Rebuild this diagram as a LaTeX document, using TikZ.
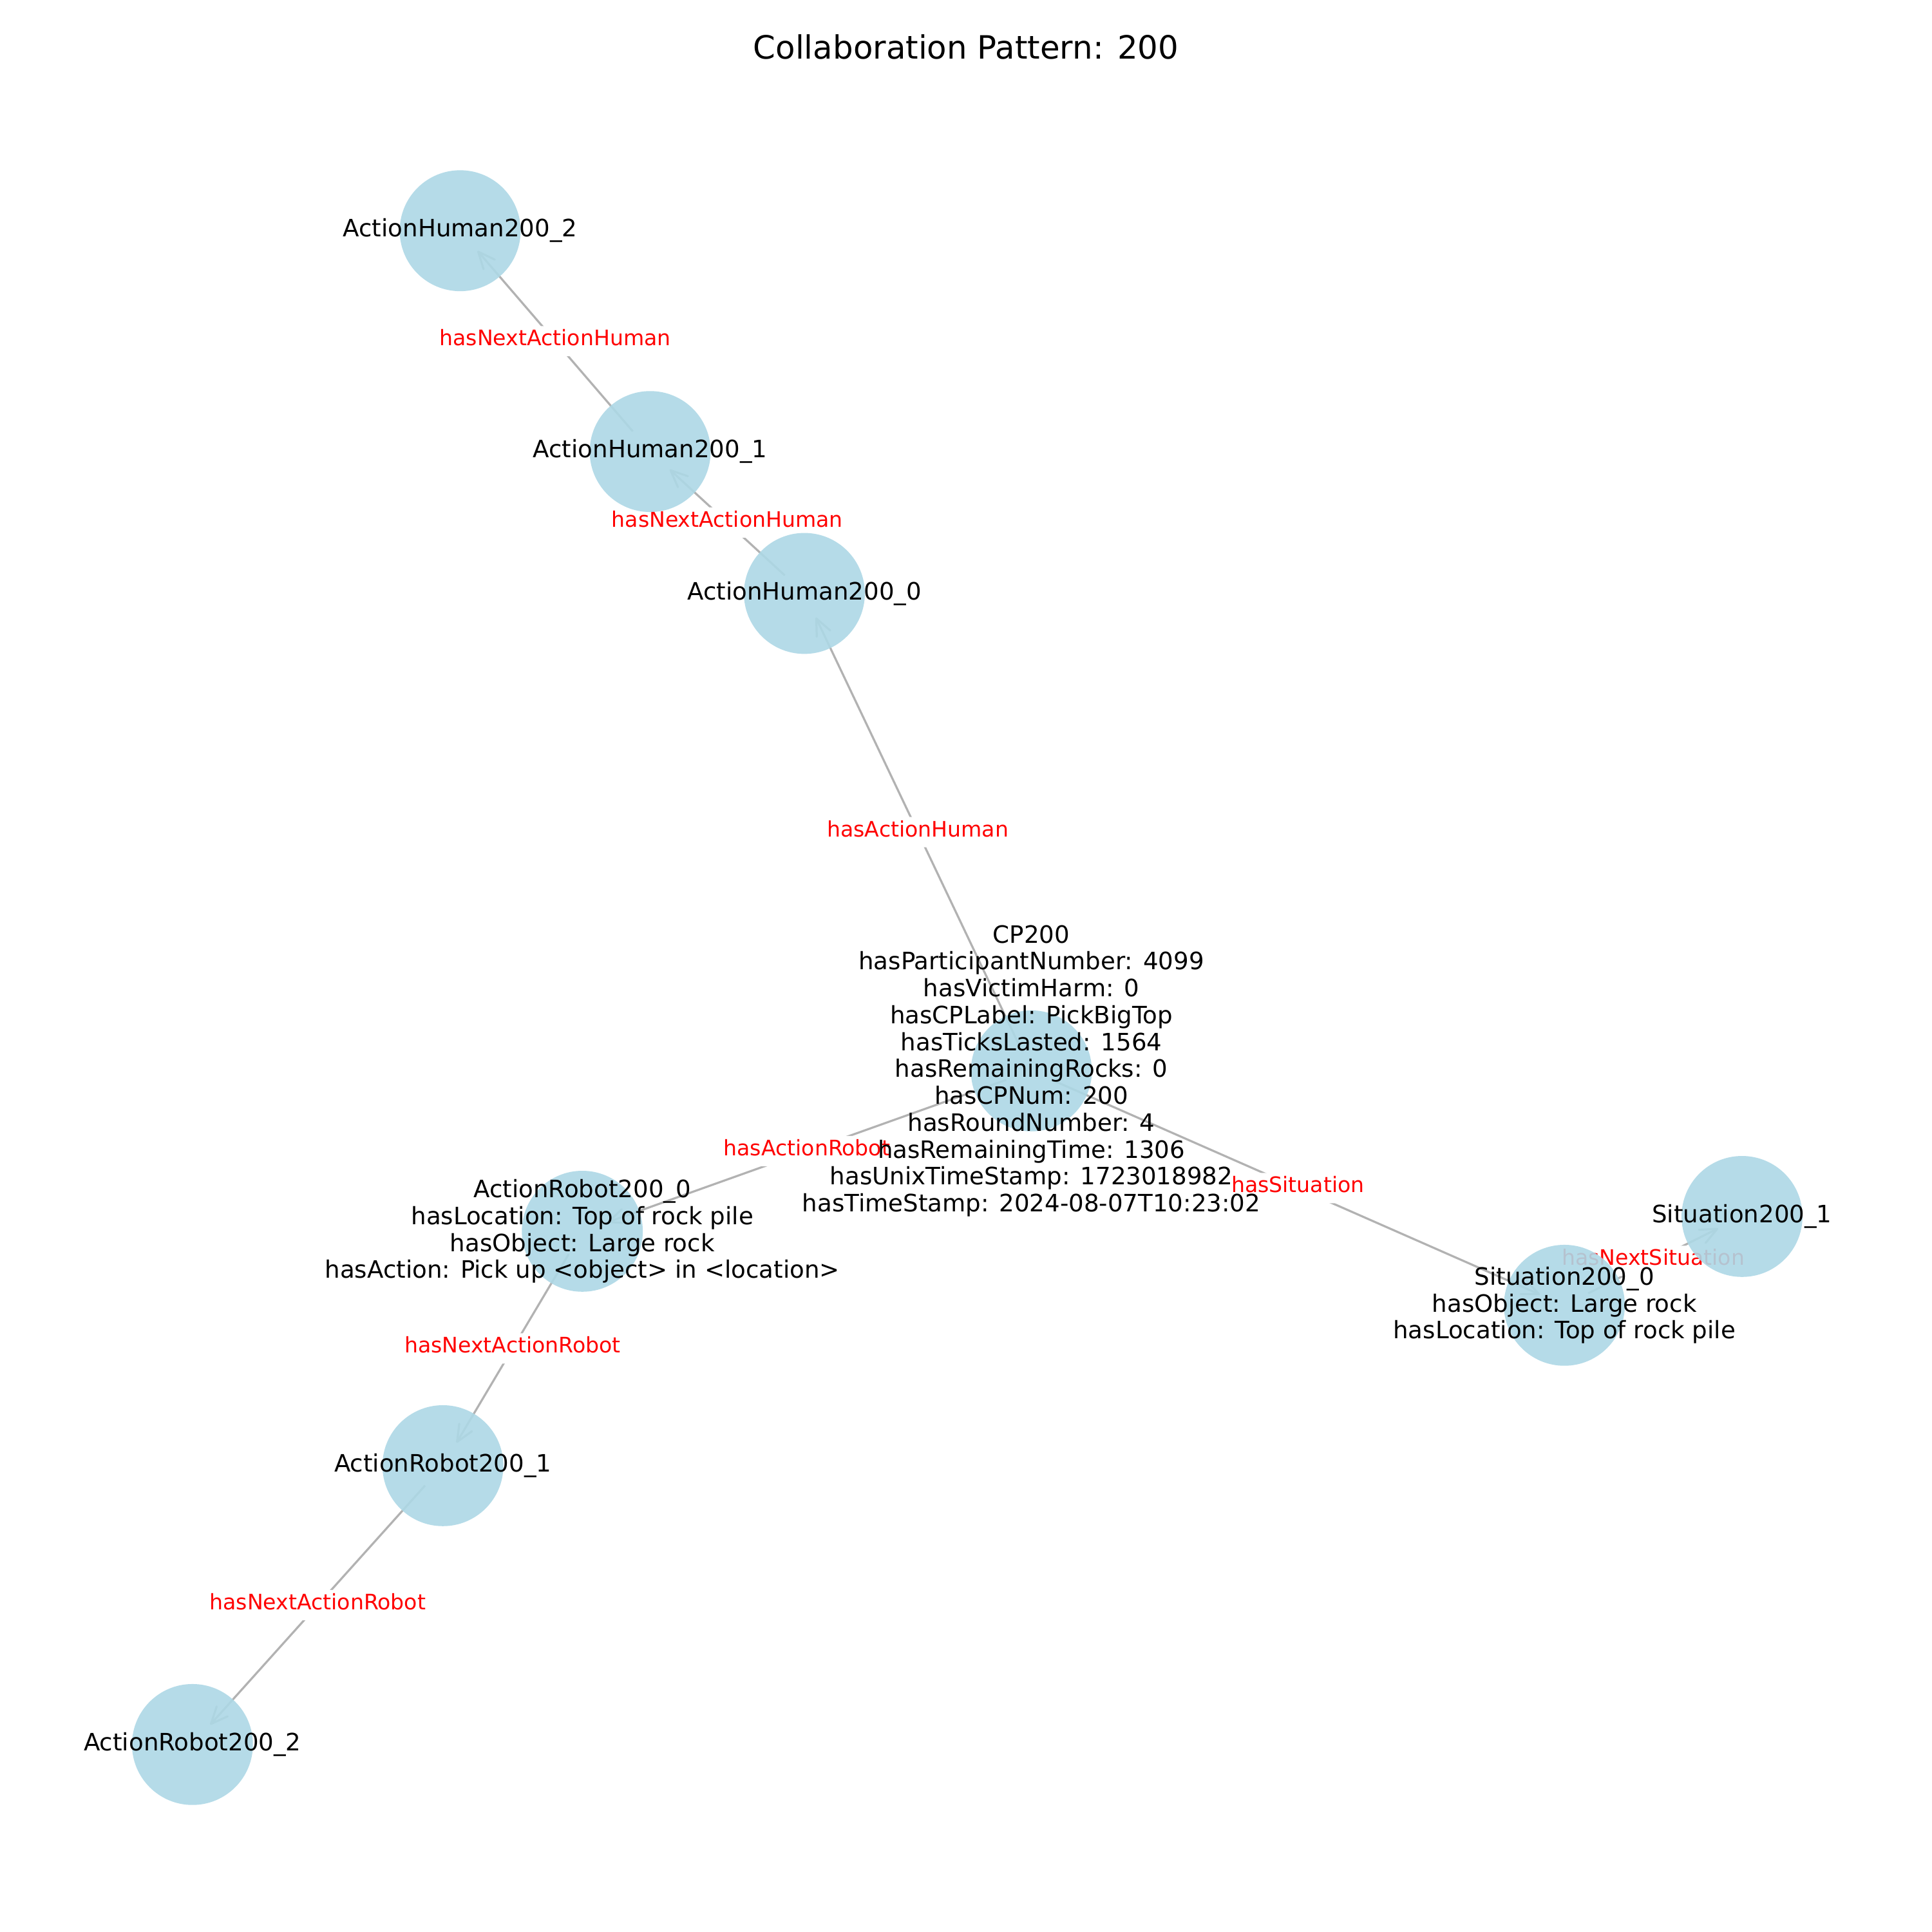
\documentclass[tikz,border=0pt]{standalone}
\usepackage{fontspec}
\setmainfont{DejaVu Sans}
\usetikzlibrary{arrows.meta}
\definecolor{lightblue}{RGB}{173,216,230}
\pgfdeclarelayer{edges}
\pgfdeclarelayer{texts}
\pgfsetlayers{edges,main,texts}
\tikzset{
  vertex/.style={circle, fill=lightblue, fill opacity=0.9, draw=none, inner sep=0pt, minimum size=2.45cm},
  vtext/.style={align=center, inner sep=0pt, font=\fontsize{13.8}{15.5}\selectfont},
  link/.style={draw=black!30, line width=1.2pt, -{Straight Barb[length=3.4mm,width=3mm,round]},
    shorten <=5.4mm, shorten >=5.4mm},
  linklabel/.style={fill=white, text=red, rounded corners=3pt, inner sep=3.7pt,
    text height=0.76em, text depth=0.24em, font=\fontsize{12.3}{14}\selectfont}
}

\begin{document}
\begin{tikzpicture}[x=0.025cm, y=-0.025cm]
		%%%%% START %%%%%
		
		\useasboundingbox (0, 0) rectangle (1566, 1566);
		
		\node[font=\fontsize{18.5}{22}\selectfont] (title) at (783, 38) {Collaboration Pattern: 200};
		
		% circles
		\node[vertex] (cp) at (836, 868) {};
		\node[vertex] (ah0) at (652, 481) {};
		\node[vertex] (ah1) at (527, 366) {};
		\node[vertex] (ah2) at (373, 187) {};
		\node[vertex] (ar0) at (472, 998) {};
		\node[vertex] (ar1) at (359, 1188) {};
		\node[vertex] (ar2) at (156, 1414) {};
		\node[vertex] (s0) at (1268, 1058) {};
		\node[vertex] (s1) at (1412, 986) {};
		
		% edges and their labels
		\begin{pgfonlayer}{edges}
		\fill[white] (0, 0) rectangle (1566, 1566);
		\draw[link] (cp.center) -- node[linklabel] {hasActionHuman} (ah0.center);
		\draw[link] (ah0.center) -- node[linklabel] {hasNextActionHuman} (ah1.center);
		\draw[link] (ah1.center) -- node[linklabel] {hasNextActionHuman} (ah2.center);
		\draw[link] (cp.center) -- node[linklabel] {hasActionRobot} (ar0.center);
		\draw[link] (ar0.center) -- node[linklabel] {hasNextActionRobot} (ar1.center);
		\draw[link] (ar1.center) -- node[linklabel] {hasNextActionRobot} (ar2.center);
		\draw[link] (cp.center) -- node[linklabel] {hasSituation} (s0.center);
		\draw[link] (s0.center) -- node[linklabel] {hasNextSituation} (s1.center);
		\end{pgfonlayer}
		
		% names
		\begin{pgfonlayer}{texts}
		\node[vtext] (cp-text) at (cp) {CP200\\hasParticipantNumber: 4099\\hasVictimHarm: 0\\hasCPLabel: PickBigTop\\hasTicksLasted: 1564\\hasRemainingRocks: 0\\hasCPNum: 200\\hasRoundNumber: 4\\hasRemainingTime: 1306\\hasUnixTimeStamp: 1723018982\\hasTimeStamp: 2024-08-07T10:23:02};
		\node[vtext] (ah0-text) at (ah0) {ActionHuman200\_0};
		\node[vtext] (ah1-text) at (ah1) {ActionHuman200\_1};
		\node[vtext] (ah2-text) at (ah2) {ActionHuman200\_2};
		\node[vtext] (ar0-text) at (ar0) {ActionRobot200\_0\\hasLocation: Top of rock pile\\hasObject: Large rock\\hasAction: Pick up <object> in <location>};
		\node[vtext] (ar1-text) at (ar1) {ActionRobot200\_1};
		\node[vtext] (ar2-text) at (ar2) {ActionRobot200\_2};
		\node[vtext] (s0-text) at (s0) {Situation200\_0\\hasObject: Large rock\\hasLocation: Top of rock pile};
		\node[vtext] (s1-text) at (s1) {Situation200\_1};
		\end{pgfonlayer}
		
		%%%%% END %%%%%
	\end{tikzpicture}
\end{document}
